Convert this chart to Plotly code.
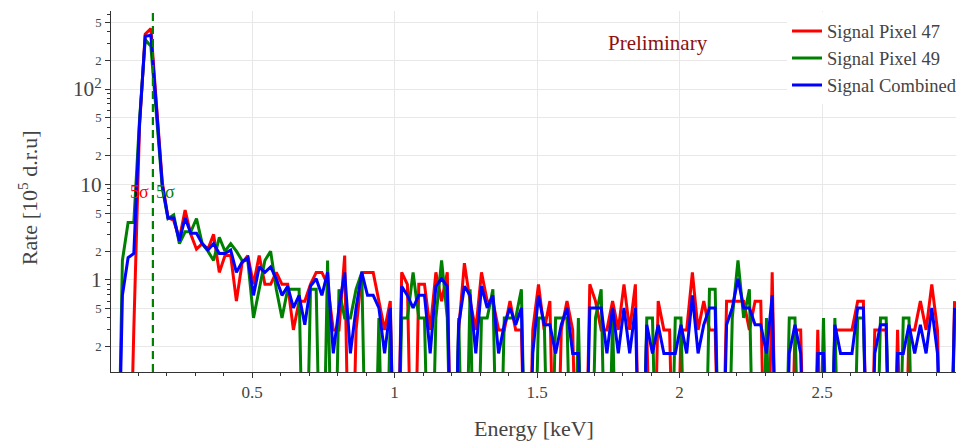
import math
import plotly.graph_objects as go

# Energy bin centres [keV]
energy = [round(0.025 + 0.02 * k, 3) for k in range(148)]

# Rates [10^5 d.r.u] (0.001 marks empty bins, below the visible range)
signal_pixel_47 = [
    0.001, 0.001, 0.001, 0.3, 40, 375, 430, 66, 10.5,
    4.5, 4.2, 2.7, 5.4, 3.0, 2.1, 2.4, 2.1, 3.0, 1.2, 1.8, 1.8, 0.6, 1.5, 1.8, 0.9,
    1.8, 0.9, 0.9, 1.2, 0.9, 0.9, 0.3, 0.6,
    0.6, 0.9, 1.2, 1.2, 0.9, 0.3, 0.3, 1.8, 0.001, 0.3, 1.2, 1.2, 1.2, 0.6, 0.3, 0.6,
    0.001, 1.2, 0.9, 0.001, 0.9, 0.9, 0.3, 1.2, 0.6, 1.2, 0.001, 0.3, 1.5, 0.6, 0.3, 1.2,
    0.6, 0.6, 0.3, 0.3, 0.6, 0.3, 0.3, 0.001, 0.3, 0.9, 0.3, 0.6, 0.001, 0.3, 0.6, 0.3,
    0.001, 0.001, 0.9, 0.6, 0.3, 0.3, 0.6, 0.3, 0.9, 0.3, 0.9, 0.001, 0.3, 0.001, 0.6, 0.3,
    0.3, 0.001, 0.3, 0.3, 1.2, 0.3, 0.6, 0.3, 0.3, 0.001, 0.6, 0.6, 0.6, 0.6, 0.3, 0.6,
    0.6, 0.001, 1.2, 0.001, 0.001, 0.001, 0.3, 0.3, 0.001, 0.001, 0.3, 0.001, 0.001, 0.3, 0.3, 0.3,
    0.3, 0.6, 0.6, 0.001, 0.3, 0.3, 0.3, 0.001, 0.3, 0.001, 0.3, 0.3, 0.6, 0.3, 0.9, 0.3,
    0.001, 0.001, 0.6,
]
signal_pixel_49 = [
    0.001, 1.6, 4.0, 4.0, 47, 330, 280, 52, 9.2,
    4.4, 4.8, 2.4, 3.2, 3.2, 4.4, 2.4, 2.0, 1.6, 2.8, 2.0, 2.4, 2.0, 1.6, 1.6, 0.4,
    0.8, 1.6, 2.0, 0.8, 0.4, 0.8, 0.8, 0.8,
    0.001, 0.8, 0.8, 0.001, 1.6, 0.001, 0.8, 0.4, 0.4, 0.8, 1.2, 0.001, 0.001, 0.4, 0.001, 0.4,
    0.001, 0.4, 0.4, 1.2, 0.4, 0.4, 0.001, 0.4, 1.6, 0.4, 0.001, 0.4, 0.001, 0.8, 0.001, 0.4,
    0.4, 0.8, 0.001, 0.4, 0.4, 0.4, 0.8, 0.001, 0.001, 0.4, 0.4, 0.001, 0.4, 0.4, 0.4, 0.001,
    0.4, 0.001, 0.001, 0.4, 0.8, 0.001, 0.4, 0.001, 0.001, 0.001, 0.001, 0.001, 0.4, 0.4, 0.001, 0.001,
    0.001, 0.4, 0.4, 0.001, 0.001, 0.001, 0.001, 0.8, 0.8, 0.001, 0.001, 0.4, 1.6, 0.4, 0.8, 0.001,
    0.001, 0.4, 0.001, 0.001, 0.001, 0.4, 0.4, 0.001, 0.001, 0.001, 0.001, 0.4, 0.001, 0.4, 0.001, 0.001,
    0.001, 0.4, 0.4, 0.001, 0.001, 0.4, 0.4, 0.001, 0.001, 0.4, 0.4, 0.001, 0.001, 0.001, 0.001, 0.001,
    0.001, 0.001, 0.4,
]
signal_combined = [
    0.001, 0.69, 1.71, 1.89, 43, 356, 366, 60, 9.9,
    4.46, 4.46, 2.57, 4.46, 3.09, 3.09, 2.40, 2.06, 2.40, 1.89, 1.89, 2.06, 1.20, 1.54, 1.71, 0.69,
    1.37, 1.20, 1.37, 1.03, 0.69, 0.86, 0.51, 0.69,
    0.34, 0.86, 1.03, 0.69, 1.20, 0.17, 0.51, 1.20, 0.17, 0.51, 1.20, 0.69, 0.69, 0.51, 0.17, 0.51,
    0.001, 0.86, 0.69, 0.51, 0.69, 0.69, 0.17, 0.86, 1.03, 0.86, 0.001, 0.34, 0.86, 0.69, 0.17, 0.86,
    0.51, 0.69, 0.17, 0.34, 0.51, 0.34, 0.51, 0.001, 0.17, 0.69, 0.34, 0.34, 0.17, 0.34, 0.51, 0.17,
    0.17, 0.001, 0.51, 0.51, 0.51, 0.17, 0.51, 0.17, 0.51, 0.17, 0.51, 0.001, 0.34, 0.17, 0.34, 0.17,
    0.17, 0.17, 0.34, 0.17, 0.69, 0.17, 0.34, 0.51, 0.51, 0.001, 0.34, 0.51, 1.03, 0.51, 0.51, 0.34,
    0.34, 0.17, 0.69, 0.001, 0.001, 0.17, 0.34, 0.17, 0.001, 0.001, 0.17, 0.17, 0.001, 0.34, 0.17, 0.17,
    0.17, 0.51, 0.51, 0.001, 0.17, 0.34, 0.34, 0.001, 0.17, 0.17, 0.34, 0.17, 0.34, 0.17, 0.51, 0.17,
    0.001, 0.001, 0.51,
]

threshold_47 = 0.152  # 5 sigma threshold [keV]
threshold_49 = 0.152
sigma_label_y = 8.4

series = [
    ("Signal Pixel 47", signal_pixel_47, "red"),
    ("Signal Pixel 49", signal_pixel_49, "green"),
    ("Signal Combined", signal_combined, "blue"),
]

FONT = "Liberation Serif, Times New Roman, serif"
fig = go.Figure()
for name, vals, col in series:
    fig.add_trace(go.Scatter(x=energy, y=vals, mode="lines", name=name,
                             line=dict(color=col, width=3)))

for xv, col in [(threshold_47, "red"), (threshold_49, "green")]:
    fig.add_shape(type="line", xref="x", yref="paper", x0=xv, x1=xv, y0=0, y1=1,
                  line=dict(color=col, width=2, dash="8px,5px"))

fig.add_annotation(x=threshold_47, y=math.log10(sigma_label_y), xref="x", yref="y",
                   text="5σ", showarrow=False, xanchor="right", yanchor="middle", xshift=-2,
                   font=dict(family=FONT, size=18, color="red"))
fig.add_annotation(x=threshold_49, y=math.log10(sigma_label_y), xref="x", yref="y",
                   text="5σ", showarrow=False, xanchor="left", yanchor="middle", xshift=1,
                   font=dict(family=FONT, size=18, color="green"))
fig.add_annotation(x=0.647, y=0.911, xref="paper", yref="paper", text="Preliminary",
                   showarrow=False, xanchor="center", yanchor="middle",
                   font=dict(family=FONT, size=21, color="#8b1010"))
fig.add_annotation(x=0.5, y=-0.157, xref="paper", yref="paper", text="Energy [keV]",
                   showarrow=False, xanchor="center", yanchor="middle",
                   font=dict(family=FONT, size=22, color="#444"))
fig.add_annotation(x=-0.098, y=0.482, xref="paper", yref="paper",
                   text="Rate [10<sup>5</sup> d.r.u]", showarrow=False, textangle=-90,
                   xanchor="center", yanchor="middle",
                   font=dict(family=FONT, size=22, color="#444"))

axis_common = dict(showgrid=True, gridcolor="#e8e8e8", gridwidth=1, showline=True,
                   linecolor="#333", linewidth=1, ticks="outside", ticklen=5,
                   tickcolor="#333", zeroline=False,
                   tickfont=dict(family=FONT, size=17, color="#444"))

fig.update_layout(
    width=964, height=442,
    margin=dict(l=111, r=8, t=11, b=70, autoexpand=False),
    paper_bgcolor="white", plot_bgcolor="white",
    font=dict(family=FONT, size=17, color="#444"),
    legend=dict(x=0.8, y=0.996, xanchor="left", yanchor="top",
                font=dict(family=FONT, size=18.5, color="#444"), bgcolor="white"),
    xaxis=dict(range=[0.005, 2.97], dtick=0.5, tick0=0,
               minor=dict(dtick=0.1, tick0=0, ticks="outside", ticklen=3,
                          tickcolor="#333", showgrid=False),
               **axis_common),
    yaxis=dict(type="log", range=[-0.964, 2.817], dtick="D2", exponentformat="power",
               minor=dict(dtick="D1", ticks="outside", ticklen=3, tickcolor="#333",
                          showgrid=False),
               **axis_common),
)

fig.write_html("out.html")
